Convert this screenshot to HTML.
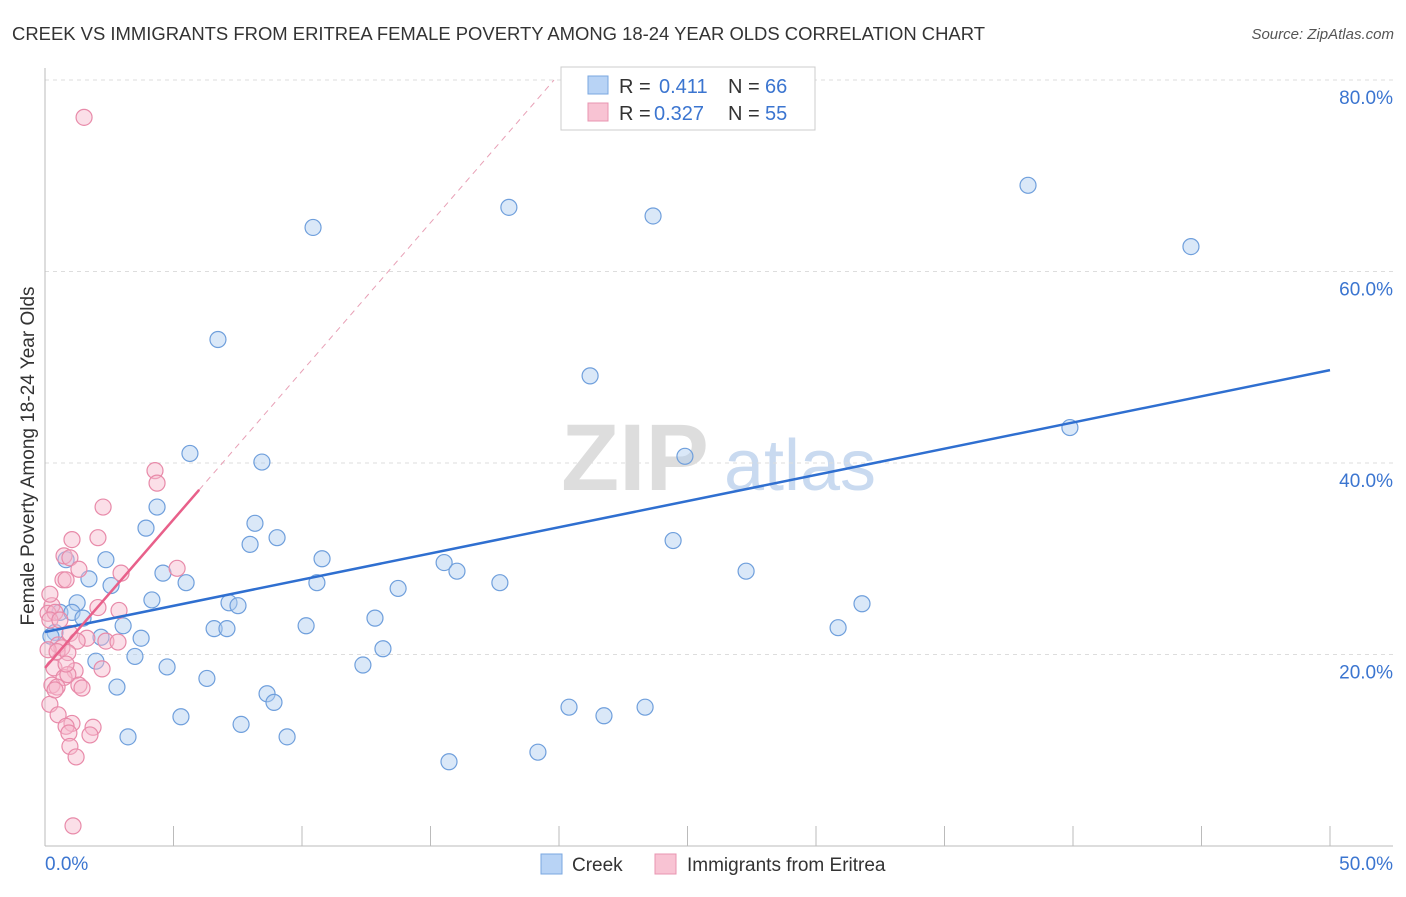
<!DOCTYPE html>
<html><head><meta charset="utf-8"><style>
body{margin:0;background:#fff;font-family:"Liberation Sans",sans-serif}
svg text{font-family:"Liberation Sans",sans-serif}
</style></head><body>
<svg id="c" width="1406" height="892">
<text x="12" y="40" font-size="18" fill="#333" textLength="973" lengthAdjust="spacingAndGlyphs">CREEK VS IMMIGRANTS FROM ERITREA FEMALE POVERTY AMONG 18-24 YEAR OLDS CORRELATION CHART</text>
<text x="1394" y="39" font-size="15" fill="#555" text-anchor="end" font-style="italic">Source: ZipAtlas.com</text>
<text x="34" y="456" font-size="19" fill="#333" text-anchor="middle" transform="rotate(-90 34 456)">Female Poverty Among 18-24 Year Olds</text>
<g><text x="635" y="490" font-size="95" fill="#ddd" font-family="Liberation Serif" text-anchor="middle" font-weight="bold">ZIP</text><text x="800" y="490" font-size="72" fill="#c9daf0" text-anchor="middle">atlas</text></g>
<g id="grid"></g><g id="axes"></g><g id="trend"></g><g id="pts"></g>
<g>
<rect x="561" y="67" width="254" height="63" fill="#fff" stroke="#ccc"/>
<rect x="588" y="76" width="20" height="18" fill="#b8d3f5" stroke="#7aa7e0"/>
<text x="619" y="93" font-size="20" fill="#333">R = </text><text x="659" y="93" font-size="20" fill="#3b75d0">0.411</text>
<text x="728" y="93" font-size="20" fill="#333">N = </text><text x="765" y="93" font-size="20" fill="#3b75d0">66</text>
<rect x="588" y="103" width="20" height="18" fill="#f8c3d3" stroke="#e895b0"/>
<text x="619" y="120" font-size="20" fill="#333">R = </text><text x="654" y="120" font-size="20" fill="#3b75d0">0.327</text>
<text x="728" y="120" font-size="20" fill="#333">N = </text><text x="765" y="120" font-size="20" fill="#3b75d0">55</text>
</g>
<g>
<rect x="541" y="854" width="21" height="20" fill="#b8d3f5" stroke="#7aa7e0"/><text x="572" y="871" font-size="19" fill="#333">Creek</text>
<rect x="655" y="854" width="21" height="20" fill="#f8c3d3" stroke="#e895b0"/><text x="687" y="871" font-size="19" fill="#333">Immigrants from Eritrea</text>
</g>
<text x="45" y="870" font-size="19" fill="#3b75d0">0.0%</text>
<text x="1393" y="870" font-size="19" fill="#3b75d0" text-anchor="end">50.0%</text>
</svg>
<script>
const creekX=[10.43,18.05,23.66,38.25,44.59,6.73,21.21,39.88,5.64,8.44,24.9,4.36,3.93,8.17,7.98,9.03,10.78,2.37,0.82,24.44,15.53,16.03,4.59,27.28,1.71,5.49,10.58,13.74,17.7,2.57,4.16,1.25,7.16,7.51,31.79,0.58,1.05,1.48,12.84,3.04,10.16,0.39,0.23,6.58,7.08,30.86,2.18,3.74,13.15,3.5,1.98,4.75,12.37,6.3,2.8,8.64,8.91,5.29,20.39,21.75,23.35,7.63,3.23,9.42,19.18,15.72];
const creekY=[64.6,66.7,65.8,69.0,62.6,52.9,49.1,43.7,41.0,40.1,40.7,35.4,33.2,33.7,31.5,32.2,30.0,29.9,29.9,31.9,29.6,28.7,28.5,28.7,27.9,27.5,27.5,26.9,27.5,27.2,25.7,25.4,25.4,25.1,25.3,24.4,24.4,23.8,23.8,23.0,23.0,22.3,21.9,22.7,22.7,22.8,21.8,21.7,20.6,19.8,19.3,18.7,18.9,17.5,16.6,15.9,15.0,13.5,14.5,13.6,14.5,12.7,11.4,11.4,9.8,8.8];
const eriX=[1.52,4.28,4.36,2.26,2.06,1.05,0.74,0.97,1.32,2.96,5.14,0.7,0.82,2.06,2.88,0.27,0.12,0.39,0.19,0.97,2.37,2.84,1.63,1.25,0.51,0.66,0.12,0.47,0.89,0.35,2.22,1.17,0.74,0.89,0.27,1.32,1.44,0.47,0.19,0.51,1.05,0.82,1.87,0.93,1.75,0.97,1.21,1.09,0.19,0.58,0.82,0.39];
const eriY=[76.1,39.2,37.9,35.4,32.2,32.0,30.3,30.1,28.9,28.5,29.0,27.8,27.8,24.9,24.6,25.1,24.3,24.4,23.6,22.2,21.4,21.3,21.7,21.4,21.0,20.7,20.5,20.3,20.2,18.6,18.5,18.3,17.6,17.9,16.8,16.8,16.5,16.6,14.8,13.7,12.8,12.5,12.4,11.8,11.6,10.4,9.3,2.1,26.3,23.6,19.0,16.3];
const yTicks=[20,40,60,80];
const creekTrend=[22.35,49.7];
const eriTrend=[18.6,3.1];
const sx=v=>45+v*25.7, sy=v=>846-v*9.575;
const NS='http://www.w3.org/2000/svg';
function mk(t,a,p){const e=document.createElementNS(NS,t);for(const k in a)e.setAttribute(k,a[k]);p.appendChild(e);return e;}
const grid=document.getElementById('grid'),axes=document.getElementById('axes'),tr=document.getElementById('trend'),pts=document.getElementById('pts');
yTicks.forEach(t=>{const l=mk('line',{x1:45,x2:1393,y1:sy(t),y2:sy(t),stroke:'#ddd','stroke-dasharray':'4,4'},grid);


const tx=mk('text',{x:1393,y:sy(t)+24,'font-size':19,fill:'#3b75d0','text-anchor':'end'},axes);tx.textContent=t.toFixed(1)+'%';

});
const ax=mk('line',{x1:45,x2:1393,y1:846,y2:846,stroke:'#bbb'},axes);


const ay=mk('line',{x1:45,x2:45,y1:68,y2:846,stroke:'#bbb'},axes);


for(let i=0;i<=10;i++){const t=mk('line',{x1:sx(i*5),x2:sx(i*5),y1:826,y2:846,stroke:'#bbb'},axes);

}
function dots(X,Y,fill,stroke,name){X.forEach((x,i)=>{const c=mk('circle',{cx:sx(x),cy:sy(Y[i]),r:8,fill:fill,'fill-opacity':0.45,stroke:stroke,'stroke-width':1.2},pts);

});}
dots(creekX,creekY,'#aecbf0','#6f9fdc','creek-point');
dots(eriX,eriY,'#f7b8cc','#e88aa9','eritrea-point');
const xEnd=(80-eriTrend[0])/eriTrend[1];
const d1=mk('line',{x1:sx(6),y1:sy(eriTrend[0]+eriTrend[1]*6),x2:sx(xEnd),y2:sy(80),stroke:'#e8a0b6','stroke-dasharray':'6,5','stroke-width':1},tr);


const l1=mk('line',{x1:sx(0),y1:sy(creekTrend[0]),x2:sx(50),y2:sy(creekTrend[1]),stroke:'#2f6fd0','stroke-width':2.5},pts);


const l2=mk('line',{x1:sx(0),y1:sy(eriTrend[0]),x2:sx(6),y2:sy(eriTrend[0]+eriTrend[1]*6),stroke:'#e8608a','stroke-width':2.5},pts);


</script>
</body></html>
